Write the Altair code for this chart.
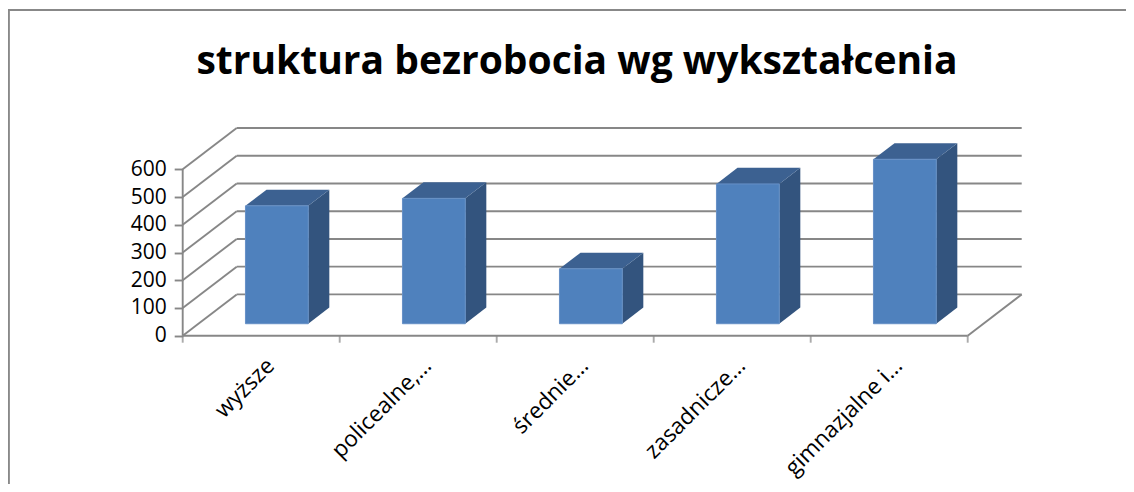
import json
import altair as alt
import pandas as pd

# ---- data ----
categories = ["wyższe", "policealne,…", "średnie…", "zasadnicze…", "gimnazjalne i…"]
values = [425, 452, 198, 504, 593]
y_ticks = [0, 100, 200, 300, 400, 500, 600]
title_text = "struktura bezrobocia wg wykształcenia"

# ---- layout / style constants (pixels of the view) ----
W, H = 1118, 476
X0_PX = 174.7          # front-left corner of floor (view x)
CAT_PX = 157.0         # width of one category on the front edge
Y0_PX = 327.7          # value 0 on the front edge (view y)
PX_PER_VAL = 0.27733   # pixels per unit of value
DEPTH_DX_PX, DEPTH_DY_PX = 54.0, 41.3

XMIN = -X0_PX / CAT_PX
XMAX = (W - X0_PX) / CAT_PX
YMAX = Y0_PX / PX_PER_VAL
YMIN = (Y0_PX - H) / PX_PER_VAL
DX = DEPTH_DX_PX / CAT_PX
DY = DEPTH_DY_PX / PX_PER_VAL
FRONT, BACK = 0.29, 0.68      # bar depth span (fraction of floor depth)
BL, BR = 0.30, 0.70           # bar span inside its category
NCAT = len(categories)

FONT = "Open Sans"
GRID = "#878787"
GW = 1.9
C_FRONT, C_TOP, C_SIDE = "#4F81BD", "#3C6191", "#33547E"

bars = pd.DataFrame({"kategoria": categories, "liczba": values,
                     "poz": list(range(NCAT))})
ticks = pd.DataFrame({"v": y_ticks})
cats = pd.DataFrame({"i": list(range(NCAT + 1))})

XS = alt.Scale(domain=[XMIN, XMAX], nice=False, zero=False)
YS = alt.Scale(domain=[YMIN, YMAX], nice=False, zero=False)

label_expr = f"{json.dumps(categories, ensure_ascii=False)}[floor(datum.value)]"
XAX = alt.Axis(values=[i + 0.5 for i in range(NCAT)], labelExpr=label_expr,
               ticks=False, tickSize=0, domain=False, grid=False, title=None,
               labelAngle=315, labelAlign="right", labelBaseline="alphabetic",
               labelPadding=31, labelOffset=14, offset=-(H - Y0_PX),
               labelFont=FONT, labelFontSize=22.5, labelColor="#000000",
               labelOverlap=False, labelBound=False, labelFlush=False)
YAX = alt.Axis(values=y_ticks, domain=False, grid=False, title=None,
               tickSize=8.5, tickColor=GRID, tickWidth=GW,
               labelPadding=8, offset=-X0_PX,
               labelFont=FONT, labelFontSize=21, labelColor="#000000")


def X(f):
    return alt.X(f, type="quantitative", scale=XS, axis=XAX)


def Y(f):
    return alt.Y(f, type="quantitative", scale=YS, axis=YAX)


# back wall horizontal gridlines
back_grid = alt.Chart(ticks).transform_calculate(
    px=f"{DX}", px2=f"{NCAT + DX}", py=f"datum.v + {DY}"
).mark_rule(color=GRID, strokeWidth=GW).encode(
    x=X("px"), x2="px2:Q", y=Y("py"), y2="py:Q")

# left wall diagonals
left_grid = alt.Chart(ticks).transform_calculate(
    px="0", px2=f"{DX}", py="datum.v", py2=f"datum.v + {DY}"
).mark_rule(color=GRID, strokeWidth=GW).encode(
    x=X("px"), x2="px2:Q", y=Y("py"), y2="py2:Q")

# front-left vertical axis line
front_axis = alt.Chart(ticks).transform_aggregate(
    vmax="max(v)", vmin="min(v)"
).transform_calculate(px="0", py="datum.vmin", py2="datum.vmax").mark_rule(
    color=GRID, strokeWidth=GW).encode(x=X("px"), y=Y("py"), y2="py2:Q")

# floor: front edge and right edge
floor_front = alt.Chart(cats).transform_aggregate(
    imax="max(i)", imin="min(i)"
).transform_calculate(px="datum.imin", px2="datum.imax", py="0").mark_rule(
    color=GRID, strokeWidth=GW).encode(x=X("px"), x2="px2:Q", y=Y("py"))

floor_right = alt.Chart(cats).transform_aggregate(
    imax="max(i)"
).transform_calculate(px="datum.imax", px2=f"datum.imax + {DX}",
                      py="0", py2=f"{DY}").mark_rule(
    color=GRID, strokeWidth=GW).encode(x=X("px"), x2="px2:Q", y=Y("py"), y2="py2:Q")

# category tick marks on the front edge
cat_ticks = alt.Chart(cats).transform_calculate(px="datum.i", py="0").mark_tick(
    orient="vertical", size=7, thickness=GW, color=GRID, yOffset=3.5
).encode(x=X("px"), y=Y("py"))

# bar front faces
front = alt.Chart(bars).transform_calculate(
    px=f"datum.poz + {BL} + {FRONT * DX}",
    px2=f"datum.poz + {BR} + {FRONT * DX}",
    py=f"{FRONT * DY}",
    py2=f"datum.liczba + {FRONT * DY}",
).mark_rect(color=C_FRONT, stroke="#6690C6", strokeWidth=1).encode(
    x=X("px"), x2="px2:Q", y=Y("py"), y2="py2:Q")

# bar top faces (horizontal areas between front and back depth)
top = alt.Chart(bars).transform_calculate(
    d=f"[{FRONT}, {BACK}]"
).transform_flatten(["d"]).transform_calculate(
    px=f"datum.poz + {BL} + datum.d * {DX}",
    px2=f"datum.poz + {BR} + datum.d * {DX}",
    py=f"datum.liczba + datum.d * {DY}",
).mark_area(orient="horizontal", color=C_TOP).encode(
    y=Y("py"), x=X("px"), x2="px2:Q", detail="kategoria:N")

# bar side faces
side = alt.Chart(bars).transform_calculate(
    d=f"[{FRONT}, {BACK}]"
).transform_flatten(["d"]).transform_calculate(
    px=f"datum.poz + {BR} + datum.d * {DX}",
    py=f"datum.d * {DY}",
    py2=f"datum.liczba + datum.d * {DY}",
).mark_area(orient="vertical", color=C_SIDE).encode(
    x=X("px"), y=Y("py"), y2="py2:Q", detail="kategoria:N")

# chart frame (left and top edges)
frame_left = alt.Chart(ticks).mark_rule(color="#898989", strokeWidth=1.5).encode(
    x=alt.value(0.5), y=alt.value(2), y2=alt.value(H))
frame_top = alt.Chart(ticks).mark_rule(color="#898989", strokeWidth=1.5).encode(
    x=alt.value(0), x2=alt.value(W), y=alt.value(2))

chart = alt.layer(
    back_grid, left_grid, front_axis, floor_front, floor_right, cat_ticks,
    side, top, front, frame_left, frame_top
).properties(
    width=W, height=H, padding=0,
    autosize=alt.AutoSizeParams(type="none"),
    title=alt.TitleParams(title_text, font=FONT, fontSize=39, fontWeight="bold",
                          color="#000000", anchor="middle", frame="group",
                          baseline="alphabetic", offset=-105, dx=10),
    background="#ffffff",
).configure_view(stroke=None)

chart.save("out.html", embed_options={"renderer": "svg", "actions": False})
